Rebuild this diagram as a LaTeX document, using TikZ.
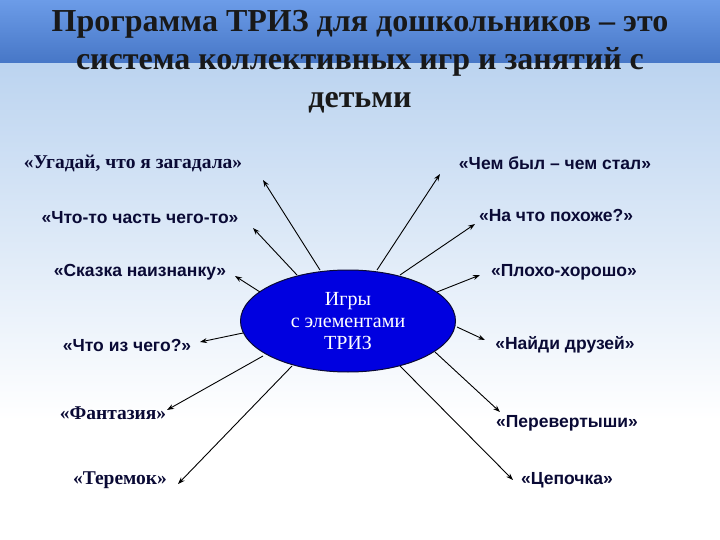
\documentclass[tikz,border=0pt]{standalone}
\usepackage{fontspec}
\setmainfont{Liberation Serif}
\newfontfamily\lsans{Liberation Sans}
\usetikzlibrary{shapes.geometric,arrows.meta}
\definecolor{txt}{HTML}{0A0A35}
\definecolor{topA}{HTML}{6C9CE8}
\definecolor{topB}{HTML}{4676C6}
\definecolor{midA}{HTML}{BCD4F0}
\definecolor{ellfill}{HTML}{0000E0}
\begin{document}
\begin{tikzpicture}[x=1pt,y=-1pt,
  lab/.style={font=\lsans\bfseries\fontsize{17.5}{20}\selectfont,text=txt,inner sep=1pt},
  labs/.style={font=\bfseries\fontsize{19.5}{22}\selectfont,text=txt,inner sep=1pt},
  arr/.style={-{Stealth[length=7pt,width=5pt]},line width=0.9pt,draw=black}]
\useasboundingbox (0,0) rectangle (720,540);
\shade[top color=topA,bottom color=topB] (0,0) rectangle (720,64);
\shade[top color=midA,bottom color=white] (0,64) rectangle (720,420);
\fill[white] (0,420) rectangle (720,540);
\node[font=\bfseries\fontsize{32}{38}\selectfont,text=black!90,align=center] (title) at (360,62)
  {Программа ТРИЗ для дошкольников – это\\система коллективных игр и занятий с\\детьми};
\node[ellipse,draw=txt,line width=1pt,fill=ellfill,minimum width=215,minimum height=102,
  text=white,align=center,inner sep=0pt,font=\fontsize{20}{22}\selectfont] (e) at (348,321) {Игры\\с элементами\\ТРИЗ};
\node[labs] (l1) at (133,163) {«Угадай, что я загадала»};
\node[lab] (r1) at (555,163) {«Чем был – чем стал»};
\node[lab] (l2) at (140,218) {«Что-то часть чего-то»};
\node[lab] (r2) at (556,215) {«На что похоже?»};
\node[lab] (l3) at (140,272) {«Сказка наизнанку»};
\node[lab] (r3) at (564,272) {«Плохо-хорошо»};
\node[lab] (l4) at (127,345) {«Что из чего?»};
\node[lab] (r4) at (565,345) {«Найди друзей»};
\node[labs] (l5) at (113,413) {«Фантазия»};
\node[lab] (r5) at (567,423) {«Перевертыши»};
\node[labs] (l6) at (120,480) {«Теремок»};
\node[lab] (r6) at (567,480) {«Цепочка»};
\coordinate (a1) at (263,180);
\coordinate (b1) at (440,174);
\coordinate (a2) at (253,228);
\coordinate (b2) at (475,224);
\coordinate (a3) at (235,276);
\coordinate (b3) at (480,275);
\coordinate (a4) at (200,342);
\coordinate (b4) at (485,340);
\coordinate (a5) at (167,410);
\coordinate (b5) at (500,412);
\coordinate (a6) at (178,484);
\coordinate (b6) at (513,480);
\coordinate (s1) at (320,270);
\coordinate (t1) at (377,270);
\coordinate (s2) at (297,275);
\coordinate (t2) at (400,275);
\coordinate (s3) at (260,292);
\coordinate (t3) at (437,292);
\coordinate (s4) at (243,333);
\coordinate (t4) at (457,327);
\coordinate (s5) at (263,356);
\coordinate (t5) at (435,352);
\coordinate (s6) at (292,366);
\coordinate (t6) at (400,366);
\foreach \s/\t in {s1/a1,t1/b1,s2/a2,t2/b2,s3/a3,t3/b3,s4/a4,t4/b4,s5/a5,t5/b5,s6/a6,t6/b6}
  \draw[arr] (\s) -- (\t);
\end{tikzpicture}
\end{document}
